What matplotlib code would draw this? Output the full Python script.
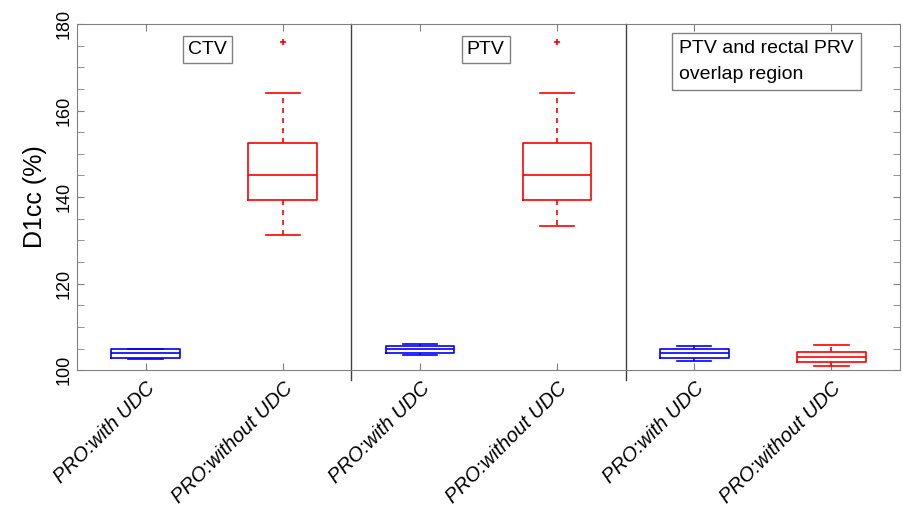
import matplotlib
matplotlib.use('Agg')
import matplotlib.pyplot as plt
from matplotlib.ticker import MultipleLocator

plt.rcParams['font.family'] = ['Liberation Sans', 'DejaVu Sans']

# valores (D1cc %)
grupos = ['CTV', 'PTV', 'PTV and rectal PRV\noverlap region']
rotulos = ['PRO:with UDC', 'PRO:without UDC'] * 3
cores = ['blue', 'red'] * 3
mediana = [103.9, 145.0, 104.8, 145.0, 104.0, 103.1]
q1 = [102.8, 139.3, 103.9, 139.3, 102.8, 101.8]
q3 = [104.9, 152.4, 105.7, 152.4, 104.9, 104.2]
whislo = [102.6, 131.3, 103.6, 133.4, 102.1, 101.0]
whishi = [105.0, 164.1, 106.0, 164.1, 105.6, 105.8]
outliers = [[], [175.9], [], [175.9], [], []]

fig = plt.figure(figsize=(9.04, 5.12), dpi=100)
ax = fig.add_axes([0.0852, 0.277, 0.9104, 0.676])

for i in range(6):
    st = [{'med': mediana[i], 'q1': q1[i], 'q3': q3[i],
           'whislo': whislo[i], 'whishi': whishi[i], 'fliers': outliers[i]}]
    c = cores[i]
    ax.bxp(st, positions=[i + 1], widths=0.5, showfliers=True,
           boxprops=dict(color=c, lw=1.2),
           medianprops=dict(color=c, lw=1.2),
           whiskerprops=dict(color=c, lw=1.2, ls=(0, (3, 3))),
           capprops=dict(color=c, lw=1.2),
           capwidths=0.25,
           flierprops=dict(marker='+', markeredgecolor=c, markersize=5, mew=1.2))

ax.set_xlim(0.5, 6.5)
ax.set_ylim(100, 180)
for xs in [2.5, 4.5]:
    ax.plot([xs, xs], [97.8, 180], color='#404040', lw=1, clip_on=False)

ax.set_xticks(range(1, 7))
ax.set_xticklabels(rotulos, rotation=45, ha='right', rotation_mode='anchor',
                   fontsize=14.5, style='italic')
ax.yaxis.set_major_locator(MultipleLocator(20))
ax.yaxis.set_minor_locator(MultipleLocator(5))
ax.tick_params(axis='both', which='both', direction='in', top=True, right=True,
               color='#808080', labelsize=13)
ax.tick_params(axis='x', labelsize=14.5)
ax.tick_params(axis='y', which='major', length=5)
ax.tick_params(axis='y', which='minor', length=5)
ax.tick_params(axis='x', length=5, pad=6)
for lab in ax.get_yticklabels():
    lab.set_rotation(90)
    lab.set_va('center')
ax.set_ylabel('D1cc (%)', fontsize=18, labelpad=6)
for s in ax.spines.values():
    s.set_color('#808080')

caixa = dict(boxstyle='square,pad=0.25', fc='white', ec='#808080', lw=1)
ax.text(1.45, 174.2, grupos[0], ha='center', va='center', fontsize=14, bbox=caixa)
ax.text(3.48, 174.2, grupos[1], ha='center', va='center', fontsize=14, bbox=caixa)
caixa2 = dict(boxstyle='square,pad=0.35', fc='white', ec='#808080', lw=1)
ax.text(4.89, 171.4, grupos[2], ha='left', va='center', fontsize=14, bbox=caixa2,
        linespacing=1.7)

fig.savefig('out.png', dpi=100)
